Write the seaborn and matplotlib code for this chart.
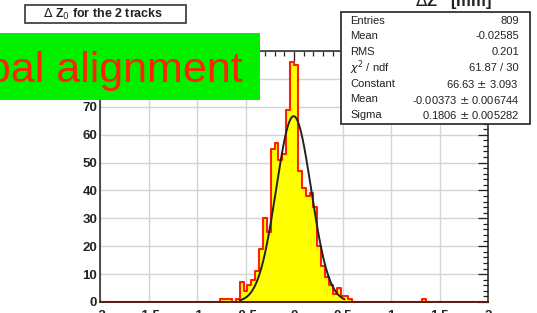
import matplotlib
matplotlib.use("Agg")
import matplotlib.pyplot as plt
import matplotlib.patches as patches
from matplotlib.ticker import MultipleLocator
import seaborn as sns
import numpy as np
import pandas as pd

# histogram: 100 bins from -2 to 2, counts
x_min, x_max, n_bins = -2.0, 2.0, 100
counts = [0] * n_bins
filled = {
    31: 1, 32: 1, 33: 1, 35: 1,
    36: 7, 37: 4, 38: 6, 39: 8, 40: 11, 41: 19, 42: 30, 43: 25,
    44: 55, 45: 57, 46: 51, 47: 53, 48: 69, 49: 86, 50: 85,
    51: 47, 52: 41, 53: 38, 54: 39, 55: 34, 56: 20, 57: 13, 58: 9,
    59: 6, 60: 3, 61: 5, 62: 2, 63: 2, 64: 1, 83: 1,
}
for k, v in filled.items():
    counts[k] = v

# gaussian fit parameters (from the stats box) and fit range
fit_const, fit_mean, fit_sigma = 66.63, -0.00373, 0.1806
fit_range = (-0.56, 0.52)

stat_names = ["Entries", "Mean", "RMS", "$\\chi^2$ / ndf", "Constant", "Mean", "Sigma"]
stat_values = ["809", "-0.02585", "0.201", "61.87 / 30", "66.63 $\\pm$ 3.093",
               "-0.00373 $\\pm$ 0.006744", "0.1806 $\\pm$ 0.005282"]

W, H = 537, 313


def fx(px):
    return px / W


def fy(py):
    return 1 - py / H


sns.set_style("white")
plt.rcParams['font.family'] = ['Liberation Sans', 'DejaVu Sans']

fig = plt.figure(figsize=(W / 100, H / 100), dpi=100)
fig.patch.set_facecolor('white')
ax = fig.add_axes([fx(100), fy(302), fx(488) - fx(100), fy(51) - fy(302)])

bw = (x_max - x_min) / n_bins
centers = x_min + bw * (np.arange(n_bins) + 0.5)
df = pd.DataFrame({'x': centers, 'n': counts})

sns.histplot(data=df, x='x', weights='n', binwidth=bw, binrange=(x_min, x_max),
             element='step', fill=True, color='#FFFF00', alpha=1,
             edgecolor='#FF2000', linewidth=1.5, ax=ax, zorder=3)

xf = np.linspace(fit_range[0], fit_range[1], 300)
fit_df = pd.DataFrame({'x': xf,
                       'y': fit_const * np.exp(-0.5 * ((xf - fit_mean) / fit_sigma) ** 2)})
sns.lineplot(data=fit_df, x='x', y='y', color='#222222', linewidth=1.4, ax=ax, zorder=4)

ax.set_xlim(x_min, x_max)
ax.set_ylim(0, 90)
ax.set_xlabel('')
ax.set_ylabel('')
ax.xaxis.set_major_locator(MultipleLocator(0.5))
ax.xaxis.set_minor_locator(MultipleLocator(0.1))
ax.yaxis.set_major_locator(MultipleLocator(10))
ax.yaxis.set_minor_locator(MultipleLocator(2))
ax.xaxis.set_major_formatter(plt.FuncFormatter(lambda v, _: f'{v:g}'))
# 80 and 90 sit under the green label in the original
ax.yaxis.set_major_formatter(plt.FuncFormatter(lambda v, _: f'{v:g}' if v < 75 else ''))
ax.tick_params(which='both', direction='in', top=True, right=True, colors='#222222',
               labelsize=9.5, pad=2, width=0.9)
ax.tick_params(axis='x', which='major', pad=6)
ax.tick_params(which='major', length=7)
ax.tick_params(which='minor', length=3.5)
ax.grid(True, which='major', color='#d4d4d4', linewidth=1)
ax.set_axisbelow(True)
for s in ax.spines.values():
    s.set_color('#222222')
    s.set_linewidth(1.1)
    s.set_zorder(6)
for lab in ax.get_yticklabels() + ax.get_xticklabels():
    lab.set_fontweight('bold')

# title box
fig.patches.append(patches.Rectangle((fx(25), fy(23)), fx(186) - fx(25), fy(5) - fy(23),
                                     transform=fig.transFigure, facecolor='white',
                                     edgecolor='#444444', linewidth=1.3, zorder=5))
fig.text(fx(103), fy(14), '$\\Delta$ Z$_0$ for the 2 tracks', ha='center', va='center',
         fontsize=9, fontweight='bold', color='#222222', zorder=6)

# green label (text runs off the left edge, as in the original)
fig.patches.append(patches.Rectangle((0, fy(100)), fx(260), fy(33) - fy(100),
                                     transform=fig.transFigure, facecolor='#00F000',
                                     edgecolor='none', zorder=5))
fig.text(fx(243), fy(82), 'Global alignment', ha='right', va='baseline',
         fontsize=31, color='#FF2200', zorder=6)

# axis title at top right
fig.text(fx(454), fy(6), '$\\Delta$Z   [mm]', ha='center', va='baseline',
         fontsize=12, fontweight='bold', color='#222222', zorder=6)

# stats box
fig.patches.append(patches.Rectangle((fx(341), fy(124)), fx(530) - fx(341), fy(12) - fy(124),
                                     transform=fig.transFigure, facecolor='white',
                                     edgecolor='#333333', linewidth=1.3, zorder=5))
for i, (name, val) in enumerate(zip(stat_names, stat_values)):
    yy = fy(20.5 + i * 15.8)
    fig.text(fx(350), yy, name, ha='left', va='center', fontsize=8, color='#222222', zorder=6)
    fig.text(fx(519), yy, val, ha='right', va='center', fontsize=8, color='#222222', zorder=6)

fig.savefig('out.png', dpi=100)
